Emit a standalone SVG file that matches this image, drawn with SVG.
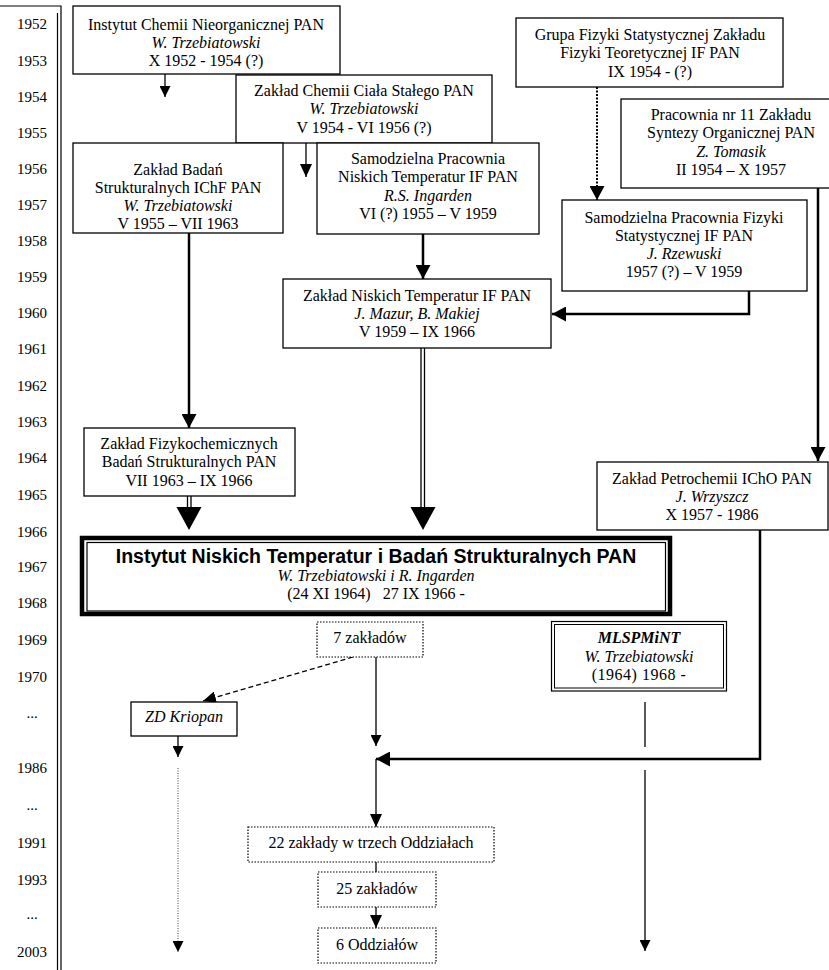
<svg xmlns="http://www.w3.org/2000/svg" width="829" height="970" viewBox="0 0 829 970" font-family="'Liberation Serif', 'Times New Roman', serif">
<style>
.box{fill:#fff;stroke:#000;stroke-width:1.3}
.dbox{fill:#fff;stroke:#000;stroke-width:1.2;stroke-dasharray:1.5 1.5}
.t{font-family:"Liberation Serif","Times New Roman",serif;font-size:16px;text-anchor:middle;fill:#000}
.i{font-style:italic}
.yr{font-size:15px}
.title{font-family:"Liberation Sans",Arial,sans-serif;font-weight:bold;font-size:19.5px}
.thin{stroke:#000;stroke-width:1.3;fill:none}
.thick{stroke:#000;stroke-width:2.5;fill:none}
.rule{stroke:#000;stroke-width:1.2;fill:none}
</style>
<defs>
<marker id="ah-m" viewBox="0 0 14 15" refX="14" refY="7.5" markerWidth="14" markerHeight="15" markerUnits="userSpaceOnUse" orient="auto"><path d="M0,0 L14,7.5 L0,15 z" fill="#000"/></marker>
<marker id="ah-s" viewBox="0 0 11 11" refX="11" refY="5.5" markerWidth="11" markerHeight="11" markerUnits="userSpaceOnUse" orient="auto"><path d="M0,0 L11,5.5 L0,11 z" fill="#000"/></marker>
<marker id="ah-t" viewBox="0 0 13 12" refX="13" refY="6" markerWidth="13" markerHeight="12" markerUnits="userSpaceOnUse" orient="auto"><path d="M0,0 L13,6 L0,12 z" fill="#000"/></marker>
</defs>

<g id="timeline">
<path class="rule" d="M0,6 H61 V970 M57.5,13 V970"/>
<g class="t yr">
<text x="32" y="29">1952</text>
<text x="32" y="66">1953</text>
<text x="32" y="102">1954</text>
<text x="32" y="138">1955</text>
<text x="32" y="174">1956</text>
<text x="32" y="210">1957</text>
<text x="32" y="246">1958</text>
<text x="32" y="282">1959</text>
<text x="32" y="318">1960</text>
<text x="32" y="354">1961</text>
<text x="32" y="391">1962</text>
<text x="32" y="427">1963</text>
<text x="32" y="463">1964</text>
<text x="32" y="500">1965</text>
<text x="32" y="537">1966</text>
<text x="32" y="572">1967</text>
<text x="32" y="608">1968</text>
<text x="32" y="645">1969</text>
<text x="32" y="682">1970</text>
<text x="32" y="718">...</text>
<text x="32" y="773">1986</text>
<text x="32" y="810">...</text>
<text x="32" y="848">1991</text>
<text x="32" y="885">1993</text>
<text x="32" y="919">...</text>
<text x="32" y="957">2003</text>
</g>
</g>

<g id="connectors">
<line class="thin" x1="165" y1="74" x2="165" y2="97" marker-end="url(#ah-s)"/>
<line class="thin" x1="306" y1="143" x2="306" y2="177" marker-end="url(#ah-t)"/>
<line class="thick" x1="189" y1="233" x2="189" y2="428" marker-end="url(#ah-m)"/>
<line class="thick" x1="423" y1="234" x2="423" y2="279" marker-end="url(#ah-m)"/>
<line class="thick" x1="597" y1="87" x2="597" y2="200" stroke-dasharray="2 1.5" style="stroke-width:2" marker-end="url(#ah-m)"/>
<path class="thick" d="M749,291 V314 H552" marker-end="url(#ah-m)"/>
<line class="thick" x1="818" y1="188" x2="818" y2="461" marker-end="url(#ah-m)"/>
<path class="thin" d="M187.5,496 V508 M191,496 V508"/>
<polygon points="176.5,507 201.5,507 189,530" fill="#000"/>
<path class="thin" d="M421,348 V508 M424.5,348 V508"/>
<polygon points="410.5,507 435.5,507 423,530" fill="#000"/>
<line class="thin" x1="376" y1="657" x2="376" y2="746" marker-end="url(#ah-s)"/>
<line class="thin" x1="353" y1="657" x2="203" y2="701" stroke-dasharray="5 3" marker-end="url(#ah-t)"/>
<line class="thin" x1="178" y1="736" x2="178" y2="757" marker-end="url(#ah-s)"/>
<line x1="178" y1="768" x2="178" y2="952" stroke="#444" stroke-width="1" stroke-dasharray="1 1.5" marker-end="url(#ah-s)"/>
<path class="thick" d="M760,530 V759 H376" marker-end="url(#ah-m)"/>
<line class="thin" x1="376" y1="759" x2="376" y2="827" marker-end="url(#ah-t)"/>
<line class="thin" x1="376" y1="862" x2="376" y2="872"/>
<line class="thin" x1="376" y1="907" x2="376" y2="928" marker-end="url(#ah-t)"/>
<line class="thin" x1="645" y1="702" x2="645" y2="747"/>
<line class="thin" x1="645" y1="770" x2="645" y2="951" marker-end="url(#ah-s)"/>
</g>

<g id="n-ichn">
<rect class="box" x="73" y="6" width="267" height="68"/>
<text class="t" x="206" y="30">Instytut Chemii Nieorganicznej PAN</text>
<text class="t i" x="206" y="48">W. Trzebiatowski</text>
<text class="t" x="206" y="66">X 1952 - 1954 (?)</text>
</g>

<g id="n-zccs">
<rect class="box" x="236" y="75" width="256" height="68"/>
<text class="t" x="364" y="96">Zakład Chemii Ciała Stałego PAN</text>
<text class="t i" x="364" y="114">W. Trzebiatowski</text>
<text class="t" x="364" y="133">V 1954 - VI 1956 (?)</text>
</g>

<g id="n-zbs">
<rect class="box" x="73" y="143" width="210" height="90"/>
<text class="t" x="178" y="175">Zakład Badań</text>
<text class="t" x="178" y="193">Strukturalnych IChF PAN</text>
<text class="t i" x="178" y="211">W. Trzebiatowski</text>
<text class="t" x="178" y="229">V 1955 – VII 1963</text>
</g>

<g id="n-spnt">
<rect class="box" x="317" y="143" width="222" height="91"/>
<text class="t" x="428" y="164">Samodzielna Pracownia</text>
<text class="t" x="428" y="182">Niskich Temperatur IF PAN</text>
<text class="t i" x="428" y="201">R.S. Ingarden</text>
<text class="t" x="428" y="219">VI (?) 1955 – V 1959</text>
</g>

<g id="n-gfs">
<rect class="box" x="516" y="18" width="267" height="69"/>
<text class="t" x="650" y="40">Grupa Fizyki Statystycznej Zakładu</text>
<text class="t" x="650" y="58">Fizyki Teoretycznej IF PAN</text>
<text class="t" x="650" y="77">IX 1954 - (?)</text>
</g>

<g id="n-p11">
<rect class="box" x="621" y="99" width="224" height="89"/>
<text class="t" x="731" y="120">Pracownia nr 11 Zakładu</text>
<text class="t" x="731" y="138">Syntezy Organicznej PAN</text>
<text class="t i" x="731" y="157">Z. Tomasik</text>
<text class="t" x="731" y="175">II 1954 – X 1957</text>
</g>

<g id="n-spfs">
<rect class="box" x="562" y="200" width="245" height="91"/>
<text class="t" x="684" y="223">Samodzielna Pracownia Fizyki</text>
<text class="t" x="684" y="241">Statystycznej IF PAN</text>
<text class="t i" x="684" y="259">J. Rzewuski</text>
<text class="t" x="684" y="277">1957 (?) – V 1959</text>
</g>

<g id="n-znt">
<rect class="box" x="283" y="279" width="268" height="69"/>
<text class="t" x="417" y="301">Zakład Niskich Temperatur IF PAN</text>
<text class="t i" x="417" y="319">J. Mazur, B. Makiej</text>
<text class="t" x="417" y="337">V 1959 – IX 1966</text>
</g>

<g id="n-zfbs">
<rect class="box" x="84" y="428" width="211" height="68"/>
<text class="t" x="189" y="449">Zakład Fizykochemicznych</text>
<text class="t" x="189" y="467">Badań Strukturalnych PAN</text>
<text class="t" x="189" y="486">VII 1963 – IX 1966</text>
</g>

<g id="n-zp">
<rect class="box" x="597" y="462" width="231" height="68"/>
<text class="t" x="712" y="484">Zakład Petrochemii IChO PAN</text>
<text class="t i" x="712" y="502">J. Wrzyszcz</text>
<text class="t" x="712" y="520">X 1957 - 1986</text>
</g>

<g id="n-intibs">
<rect x="82" y="538" width="588" height="76" fill="#fff" stroke="#000" stroke-width="4.5"/>
<rect x="87" y="542.5" width="578.5" height="68.5" fill="none" stroke="#000" stroke-width="1.2"/>
<text class="t title" x="376" y="562.5">Instytut Niskich Temperatur i Badań Strukturalnych PAN</text>
<text class="t i" x="376" y="581">W. Trzebiatowski i R. Ingarden</text>
<text class="t" x="376" y="599" xml:space="preserve">(24 XI 1964)   27 IX 1966 -</text>
</g>

<g id="n-7z">
<rect class="dbox" x="317" y="622" width="106" height="35"/>
<text class="t" x="370" y="643">7 zakładów</text>
</g>

<g id="n-mlsp">
<rect class="box" x="551.5" y="621.5" width="175" height="69.5" style="stroke-width:1.2"/>
<rect x="554.5" y="624.5" width="169" height="63.5" fill="none" stroke="#000" stroke-width="1"/>
<text class="t i" x="639" y="643" font-weight="bold">MLSPMiNT</text>
<text class="t i" x="639" y="662">W. Trzebiatowski</text>
<text class="t" x="639" y="680" letter-spacing="0.5">(1964) 1968 -</text>
</g>

<g id="n-kriopan">
<rect class="box" x="131" y="702" width="106" height="34"/>
<text class="t i" x="184" y="722">ZD Kriopan</text>
</g>

<g id="n-22z">
<rect class="dbox" x="248" y="827" width="246" height="35"/>
<text class="t" x="371" y="848">22 zakłady w trzech Oddziałach</text>
</g>

<g id="n-25z">
<rect class="dbox" x="318" y="872" width="118" height="35"/>
<text class="t" x="377" y="894">25 zakładów</text>
</g>

<g id="n-6o">
<rect class="dbox" x="318" y="928" width="118" height="35"/>
<text class="t" x="377" y="950">6 Oddziałów</text>
</g>
</svg>
